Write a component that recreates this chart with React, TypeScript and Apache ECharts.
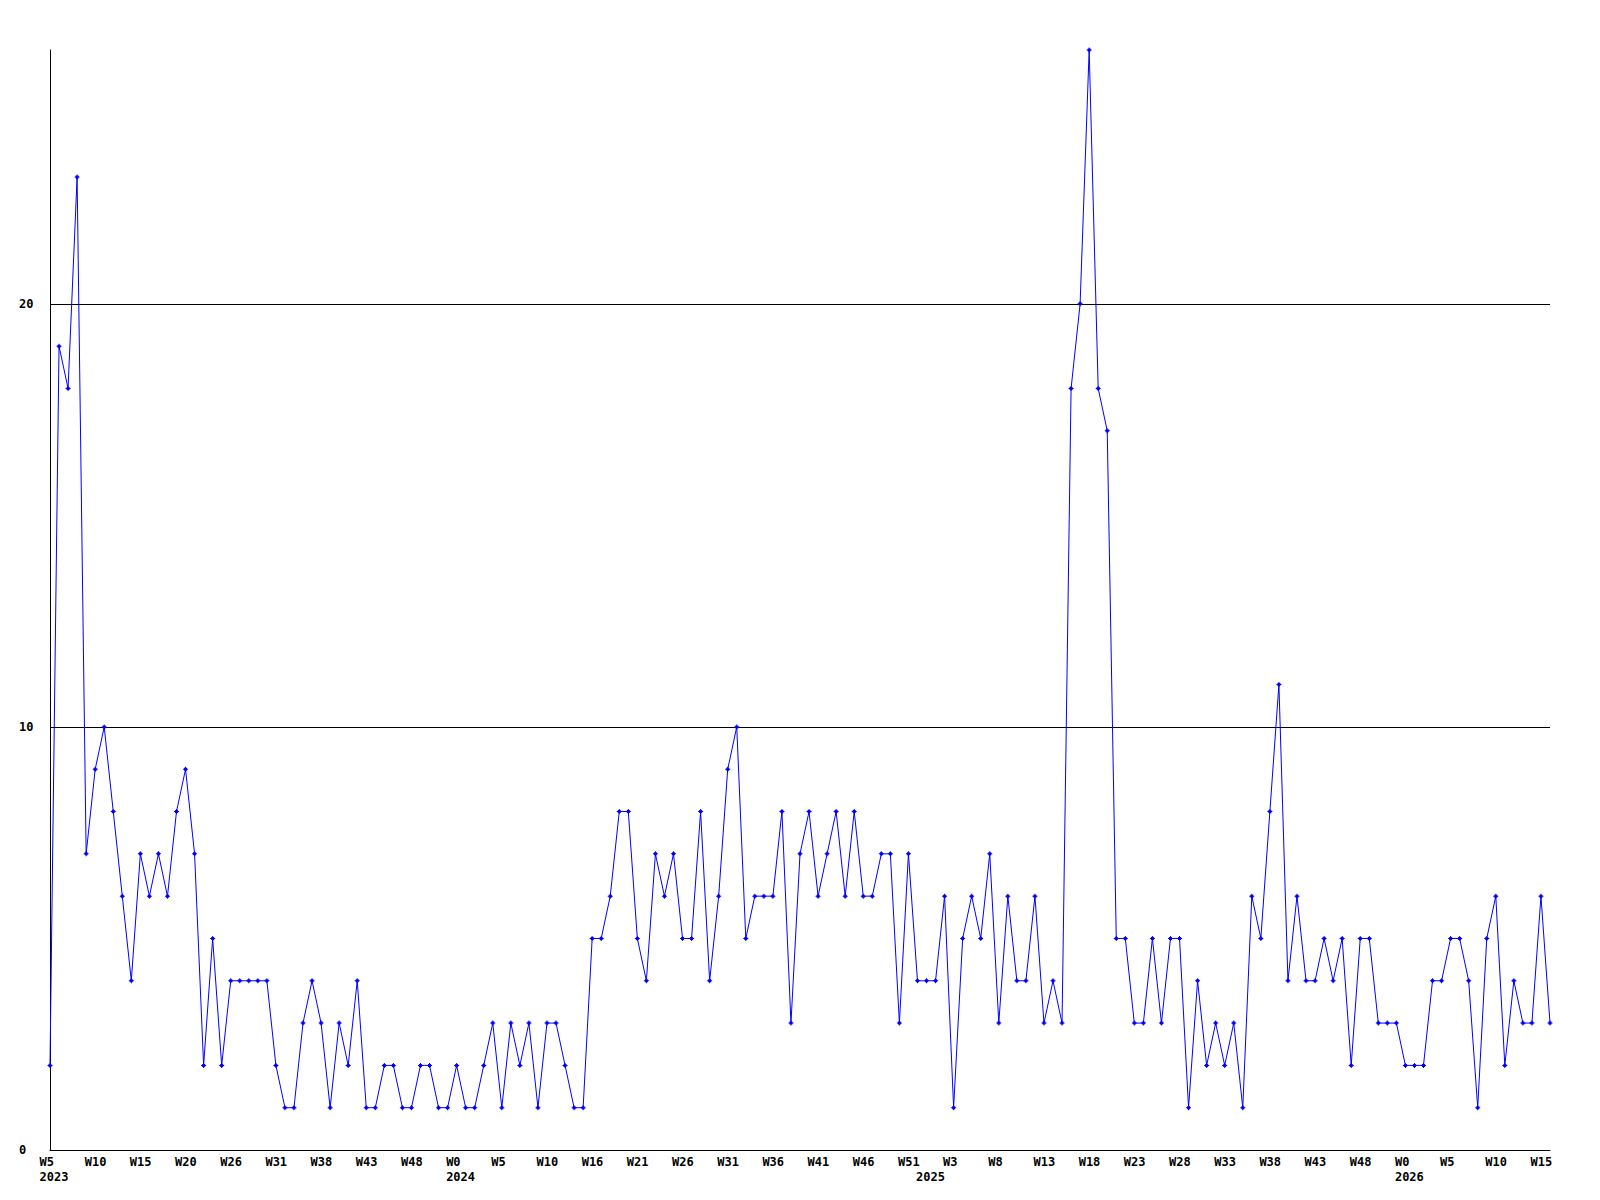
import React, { useEffect, useRef } from "react";
import * as echarts from "echarts";

// Week numbers shown on the category axis, per year
const weeks2023 = [5, 6, 7, 8, 9, 10, 11, 12, 13, 14, 15, 16, 17, 18, 19, 20, 21, 22, 23, 24, 26, 27, 28, 29, 30, 31, 32, 34, 35, 37, 38, 39, 40, 41, 42, 43, 44, 45, 46, 47, 48, 49, 50, 51, 52];
const weeks2024 = [0, 1, 2, 3, 4, 5, 6, 7, 8, 9, 10, 11, 12, 13, 15, 16, 17, 18, 19, 20, 21, 22, 23, 24, 25, 26, 27, 28, 29, 30, 31, 32, 33, 34, 35, 36, 37, 38, 39, 40, 41, 42, 43, 44, 45, 46, 47, 48, 49, 50, 51, 52];
const weeks2025 = [0, 1, 2, 3, 4, 5, 6, 7, 8, 9, 10, 11, 12, 13, 14, 15, 16, 17, 18, 19, 20, 21, 22, 23, 24, 25, 26, 27, 28, 29, 30, 31, 32, 33, 34, 35, 36, 37, 38, 39, 40, 41, 42, 43, 44, 45, 46, 47, 48, 49, 50, 51, 52];
const weeks2026 = [0, 1, 2, 3, 4, 5, 6, 7, 8, 9, 10, 11, 12, 13, 14, 15, 16];

// Weekly values, per year
const values2023 = [2, 19, 18, 23, 7, 9, 10, 8, 6, 4, 7, 6, 7, 6, 8, 9, 7, 2, 5, 2, 4, 4, 4, 4, 4, 2, 1, 1, 3, 4, 3, 1, 3, 2, 4, 1, 1, 2, 2, 1, 1, 2, 2, 1, 1];
const values2024 = [2, 1, 1, 2, 3, 1, 3, 2, 3, 1, 3, 3, 2, 1, 1, 5, 5, 6, 8, 8, 5, 4, 7, 6, 7, 5, 5, 8, 4, 6, 9, 10, 5, 6, 6, 6, 8, 3, 7, 8, 6, 7, 8, 6, 8, 6, 6, 7, 7, 3, 7, 4];
const values2025 = [4, 4, 6, 1, 5, 6, 5, 7, 3, 6, 4, 4, 6, 3, 4, 3, 18, 20, 26, 18, 17, 5, 5, 3, 3, 5, 3, 5, 5, 1, 4, 2, 3, 2, 3, 1, 6, 5, 8, 11, 4, 6, 4, 4, 5, 4, 5, 2, 5, 5, 3, 3, 3];
const values2026 = [2, 2, 2, 4, 4, 5, 5, 4, 1, 5, 6, 2, 4, 3, 3, 6, 3];

const years = [2023, 2024, 2025, 2026];
const yearWeeks = [weeks2023, weeks2024, weeks2025, weeks2026];
const yearValues = [values2023, values2024, values2025, values2026];

// Y-axis ticks and horizontal grid lines
const yMin = 0;
const yMax = 26;
const yInterval = 10;
const gridLineValues = [10, 20];

const FONT = "DejaVu Sans Mono";

export default function App() {
  const ref = useRef<HTMLDivElement>(null);

  useEffect(() => {
    if (!ref.current) return;
    const chart = echarts.init(ref.current, null, { renderer: "svg" });

    const categories: string[] = [];
    const data: number[] = [];
    const yearStart: Record<number, boolean> = {};
    yearWeeks.forEach((ws, i) => {
      yearStart[categories.length] = true;
      ws.forEach((w, j) => {
        categories.push(`${years[i]}-W${w}`);
        data.push(yearValues[i][j]);
      });
    });

    const textBase = {
      fontFamily: FONT,
      fontWeight: "bold" as const,
      fontSize: 12,
      color: "#000",
    };

    chart.setOption({
      animation: false,
      backgroundColor: "#ffffff",
      grid: { left: 50, right: 50, top: 50, bottom: 50, containLabel: false },
      xAxis: [
        {
          type: "category",
          data: categories,
          boundaryGap: false,
          position: "bottom",
          axisLine: { show: true, lineStyle: { color: "#000", width: 1 } },
          axisTick: { show: false },
          splitLine: { show: false },
          axisLabel: {
            interval: 4,
            margin: 6,
            formatter: (value: string) => `{w|${value.split("-")[1]}}`,
            rich: { w: { ...textBase, width: 21, align: "left" } },
            ...textBase,
          },
        },
        {
          type: "category",
          data: categories,
          boundaryGap: false,
          position: "bottom",
          axisLine: { show: false },
          axisTick: { show: false },
          splitLine: { show: false },
          axisLabel: {
            interval: (index: number) => !!yearStart[index],
            margin: 21,
            formatter: (value: string) => `{y|${value.split("-")[0]}}`,
            rich: { y: { ...textBase, width: 21, align: "left" } },
            ...textBase,
          },
        },
      ],
      yAxis: {
        type: "value",
        min: yMin,
        max: yMax,
        interval: yInterval,
        axisLine: { show: true, lineStyle: { color: "#000", width: 1 } },
        axisTick: { show: false },
        splitLine: { show: false },
        axisLabel: { ...textBase, align: "left", margin: 31, showMaxLabel: false },
      },
      series: [
        {
          type: "line",
          xAxisIndex: 0,
          data,
          showAllSymbol: true,
          symbol: "path://M2,0H3V1H4V2H5V3H4V4H3V5H2V4H1V3H0V2H1V1H2Z",
          symbolSize: 5,
          itemStyle: { color: "#0000ff" },
          lineStyle: { color: "#0000ff", width: 1 },
          silent: true,
          z: 3,
          markLine: {
            silent: true,
            symbol: ["none", "none"],
            label: { show: false },
            lineStyle: { color: "#000", width: 1, type: "solid" },
            emphasis: { disabled: true },
            z: 1,
            data: gridLineValues.map((v) => ({ yAxis: v })),
          },
        },
      ],
    });

    return () => chart.dispose();
  }, []);

  return (
    <div
      ref={ref}
      style={{ position: "fixed", left: 0, top: 0, width: 1600, height: 1200, background: "#fff" }}
    />
  );
}
